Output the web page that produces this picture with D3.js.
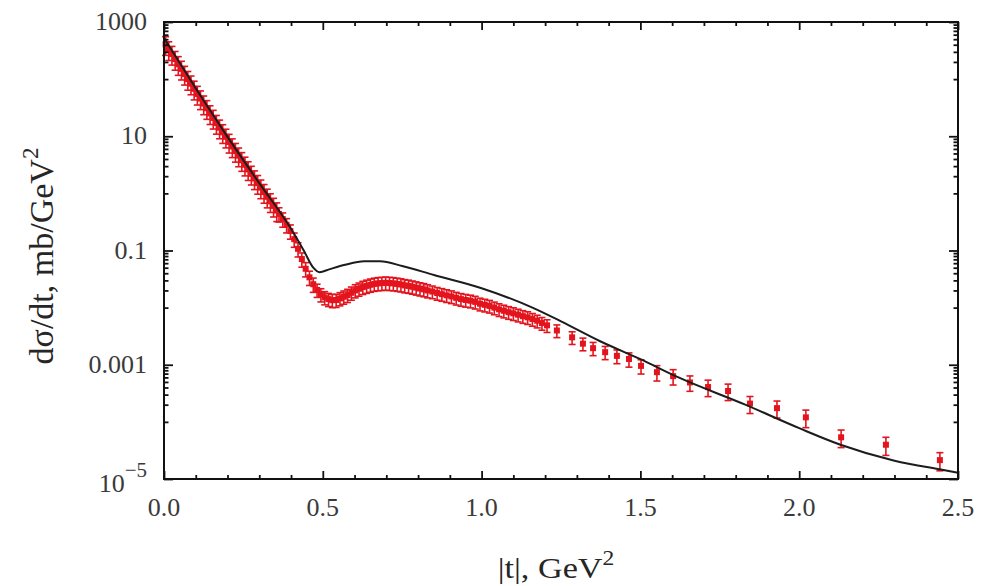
<!DOCTYPE html>
<html>
<head>
<meta charset="utf-8">
<script src="https://cdn.jsdelivr.net/npm/d3@7"></script>
<style>
  html, body { margin: 0; padding: 0; background: #fff; }
  svg { display: block; }
</style>
</head>
<body>
<div id="chart"></div>
<script>
// ---------------- data ----------------
// Experimental points: |t| (GeV^2), dσ/dt (mb/GeV^2), relative error
const dataT = [
  0.005, 0.015, 0.025, 0.035, 0.045, 0.055, 0.065, 0.075, 0.085, 0.095,
  0.105, 0.115, 0.125, 0.135, 0.145, 0.155, 0.165, 0.175, 0.185, 0.195,
  0.205, 0.215, 0.225, 0.235, 0.245, 0.255, 0.265, 0.275, 0.285, 0.295,
  0.305, 0.315, 0.325, 0.335, 0.345, 0.355,
  0.362, 0.374, 0.386, 0.398, 0.410, 0.422, 0.434, 0.446, 0.458, 0.470,
  0.482, 0.494, 0.506, 0.518, 0.530, 0.542, 0.554, 0.566, 0.578, 0.590,
  0.602, 0.614, 0.626, 0.638, 0.650, 0.662, 0.674, 0.686, 0.698, 0.710,
  0.722, 0.734, 0.746, 0.758, 0.770, 0.782, 0.794, 0.806, 0.818, 0.830,
  0.845, 0.860, 0.875, 0.890, 0.905, 0.920, 0.935, 0.950, 0.965, 0.980,
  0.995, 1.010, 1.025, 1.040, 1.055, 1.070, 1.085, 1.100, 1.115, 1.130,
  1.145, 1.160, 1.175, 1.190, 1.206, 1.237, 1.285, 1.319, 1.351, 1.389,
  1.426, 1.464, 1.502, 1.552, 1.603, 1.656, 1.713, 1.776, 1.845, 1.930,
  2.021, 2.132, 2.273, 2.443
];
const dataY = [
  407, 331, 275, 224, 182, 151, 123, 100, 83.2, 67.6,
  55.0, 45.7, 37.2, 30.9, 25.1, 20.9, 17.0, 14.1, 11.7, 9.77,
  7.94, 6.61, 5.50, 4.57, 3.80, 3.16, 2.63, 2.19, 1.82, 1.51,
  1.26, 1.05, 0.871, 0.724, 0.603, 0.501,
  0.437, 0.355, 0.282, 0.219, 0.158, 0.107, 0.0708, 0.0479, 0.0339, 0.0257,
  0.0204, 0.0170, 0.0151, 0.0141, 0.0135, 0.0136, 0.0145, 0.0155, 0.0166, 0.0182,
  0.0200, 0.0214, 0.0229, 0.0240, 0.0251, 0.0260, 0.0266, 0.0269, 0.0272, 0.0269,
  0.0266, 0.0260, 0.0254, 0.0245, 0.0240, 0.0232, 0.0224, 0.0216, 0.0209, 0.0200,
  0.0191, 0.0180, 0.0172, 0.0164, 0.0157, 0.0148, 0.0141, 0.0136, 0.0132, 0.0126,
  0.0117, 0.0112, 0.0107, 0.0100, 0.00933, 0.00881, 0.00832, 0.00794, 0.00750, 0.00708,
  0.00676, 0.00631, 0.00589, 0.00537, 0.00490, 0.00398, 0.00302, 0.00234, 0.00195, 0.00166,
  0.00143, 0.00126, 0.000955, 0.000741, 0.000631, 0.000490, 0.000407, 0.000347, 0.000209, 0.000174,
  0.000120, 0.0000537, 0.0000398, 0.0000214
];
const dataErr = [
  0.36, 0.36, 0.36, 0.36, 0.36, 0.36, 0.36, 0.36, 0.36, 0.36,
  0.36, 0.36, 0.36, 0.36, 0.36, 0.36, 0.36, 0.36, 0.36, 0.36,
  0.36, 0.36, 0.36, 0.36, 0.36, 0.36, 0.36, 0.36, 0.36, 0.36,
  0.36, 0.36, 0.36, 0.36, 0.36, 0.36,
  0.28, 0.28, 0.28, 0.28, 0.28, 0.28, 0.28, 0.28, 0.28, 0.28,
  0.26, 0.26, 0.26, 0.26, 0.26, 0.26, 0.26, 0.26, 0.26, 0.26,
  0.26, 0.26, 0.26, 0.26, 0.26, 0.26, 0.26, 0.26, 0.26, 0.26,
  0.26, 0.26, 0.26, 0.26, 0.26, 0.26, 0.26, 0.26, 0.26, 0.26,
  0.25, 0.25, 0.25, 0.25, 0.25, 0.25, 0.25, 0.25, 0.25, 0.25,
  0.25, 0.25, 0.25, 0.25, 0.25, 0.25, 0.25, 0.25, 0.25, 0.25,
  0.25, 0.25, 0.25, 0.25, 0.25, 0.25, 0.25, 0.25, 0.26, 0.26,
  0.27, 0.28, 0.28, 0.30, 0.30, 0.30, 0.32, 0.32, 0.33, 0.33,
  0.34, 0.34, 0.35, 0.35
];

// Model curve: |t| (GeV^2), dσ/dt (mb/GeV^2)
const curveT = [0, 0.10, 0.20, 0.30, 0.40, 0.44, 0.47, 0.49, 0.52, 0.57, 0.63, 0.68, 0.75,
  0.85, 1.00, 1.16, 1.25, 1.37, 1.50, 1.62, 1.83, 2.00, 2.13, 2.30, 2.45, 2.50];
const curveY = [525, 69.2, 9.77, 1.51, 0.24, 0.10, 0.0501, 0.0417, 0.0468, 0.0562, 0.0646, 0.0646, 0.0537,
  0.0372, 0.0219, 0.0100, 0.00575, 0.00263, 0.00125, 0.000600, 0.000200, 0.0000776, 0.0000398,
  0.0000209, 0.0000145, 0.0000129];

// Axes
const xMajorTicks = [0, 0.5, 1.0, 1.5, 2.0, 2.5];
const xTickLabels = ["0.0", "0.5", "1.0", "1.5", "2.0", "2.5"];
const xMinorTicks = [0.1,0.2,0.3,0.4,0.6,0.7,0.8,0.9,1.1,1.2,1.3,1.4,1.6,1.7,1.8,1.9,2.1,2.2,2.3,2.4];
const yMajorTicks = [1000, 10, 0.1, 0.001, 1e-5];
const yTickLabels = ["1000", "10", "0.1", "0.001", "10^-5"];
const yMinorTicks = [
  900,800,700,600,500,400,300,200,100,
  9,8,7,6,5,4,3,2,1,
  0.09,0.08,0.07,0.06,0.05,0.04,0.03,0.02,0.01,
  0.0009,0.0008,0.0007,0.0006,0.0005,0.0004,0.0003,0.0002,0.0001
];
const xTitle = "|t|, GeV";
const yTitle = "dσ/dt, mb/GeV";

// ---------------- drawing ----------------
const W = 986, H = 586;
const L = 164, R = 958, T = 22, B = 479;

const svg = d3.select("#chart").append("svg")
  .attr("width", W).attr("height", H)
  .style("font-family", "'Liberation Serif', 'Times New Roman', serif");

svg.append("rect").attr("width", W).attr("height", H).attr("fill", "#fff");

const x = d3.scaleLinear().domain([0, 2.5]).range([L, R]);
const y = d3.scaleLog().domain([1e-5, 1000]).range([B, T]);

const red = "#e3141d";
const points = dataT.map((t, i) => ({t, v: dataY[i], e: dataErr[i]}));

// error bars and markers
const g = svg.append("g");
const pg = g.selectAll("g.pt").data(points).join("g").attr("class", "pt");
pg.append("line")
  .attr("x1", d => x(d.t)).attr("x2", d => x(d.t))
  .attr("y1", d => y(d.v * (1 + d.e))).attr("y2", d => y(d.v * (1 - d.e)))
  .attr("stroke", red).attr("stroke-width", 1.6);
pg.append("line")
  .attr("x1", d => x(d.t) - 3.5).attr("x2", d => x(d.t) + 3.5)
  .attr("y1", d => y(d.v * (1 + d.e))).attr("y2", d => y(d.v * (1 + d.e)))
  .attr("stroke", red).attr("stroke-width", 1.6);
pg.append("line")
  .attr("x1", d => x(d.t) - 3.5).attr("x2", d => x(d.t) + 3.5)
  .attr("y1", d => y(d.v * (1 - d.e))).attr("y2", d => y(d.v * (1 - d.e)))
  .attr("stroke", red).attr("stroke-width", 1.6);
pg.append("rect")
  .attr("x", d => x(d.t) - 3).attr("y", d => y(d.v) - 3)
  .attr("width", 6).attr("height", 6)
  .attr("fill", red);

// model curve
const line = d3.line()
  .x((d, i) => x(curveT[i])).y((d, i) => y(curveY[i]))
  .curve(d3.curveMonotoneX);
svg.append("path")
  .attr("d", line(curveT))
  .attr("fill", "none").attr("stroke", "#1c1c1c").attr("stroke-width", 2);

// frame axes with inward ticks on all four sides
function tickAxis(axisFn, scale, values, size, transform) {
  const a = axisFn(scale).tickValues(values).tickSize(size).tickFormat("");
  const gg = svg.append("g").attr("transform", transform).call(a);
  gg.select(".domain").remove();
  gg.selectAll(".tick line").attr("stroke", "#111").attr("stroke-width", 1.8);
  return gg;
}
tickAxis(d3.axisBottom, x, xMajorTicks, -8, `translate(0,${B})`);
tickAxis(d3.axisBottom, x, xMinorTicks, -4, `translate(0,${B})`);
tickAxis(d3.axisTop, x, xMajorTicks, -8, `translate(0,${T})`);
tickAxis(d3.axisTop, x, xMinorTicks, -4, `translate(0,${T})`);
tickAxis(d3.axisLeft, y, yMajorTicks, -9, `translate(${L},0)`);
tickAxis(d3.axisLeft, y, yMinorTicks, -4.5, `translate(${L},0)`);
tickAxis(d3.axisRight, y, yMajorTicks, -9, `translate(${R},0)`);
tickAxis(d3.axisRight, y, yMinorTicks, -4.5, `translate(${R},0)`);

svg.append("rect")
  .attr("x", L).attr("y", T).attr("width", R - L).attr("height", B - T)
  .attr("fill", "none").attr("stroke", "#111").attr("stroke-width", 2);

// tick labels
const labColor = "#3a3a3a";
svg.append("g").selectAll("text").data(xMajorTicks).join("text")
  .attr("x", d => x(d)).attr("y", 516)
  .attr("text-anchor", "middle").attr("font-size", 26).attr("fill", labColor)
  .text((d, i) => xTickLabels[i]);

const yl = svg.append("g").selectAll("text").data(yMajorTicks).join("text")
  .attr("x", 147).attr("y", d => y(d) + 8)
  .attr("text-anchor", "end").attr("font-size", 26).attr("fill", labColor);
yl.each(function(d, i) {
  const s = yTickLabels[i];
  const el = d3.select(this);
  if (s.includes("^")) {
    const [base, ex] = s.split("^");
    el.attr("y", y(d) + 13);
    el.append("tspan").text(base);
    el.append("tspan").attr("dy", -15).attr("font-size", 21).text(ex.replace("-", "\u2212"));
  } else {
    el.text(s);
  }
});

// axis titles
const xt = svg.append("text")
  .attr("transform", `translate(556,578) scale(1.18,1)`)
  .attr("text-anchor", "middle").attr("font-size", 29).attr("fill", "#262626");
xt.append("tspan").text(xTitle);
xt.append("tspan").attr("dy", -13).attr("font-size", 20).text("2");

const yt = svg.append("text")
  .attr("transform", `translate(53,256) rotate(-90)`)
  .attr("text-anchor", "middle").attr("font-size", 34).attr("fill", "#262626");
yt.append("tspan").text(yTitle);
yt.append("tspan").attr("dy", -15).attr("font-size", 23).text("2");
</script>
</body>
</html>
